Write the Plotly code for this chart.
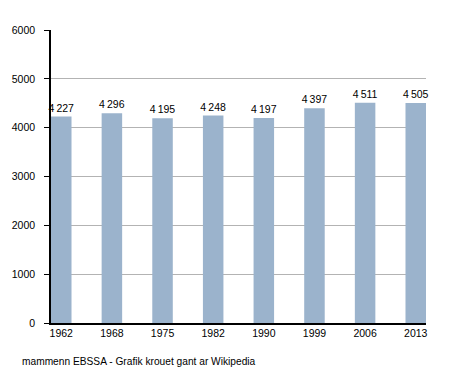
import plotly.graph_objects as go

years = ["1962", "1968", "1975", "1982", "1990", "1999", "2006", "2013"]
population = [4227, 4296, 4195, 4248, 4197, 4397, 4511, 4505]
y_ticks = [0, 1000, 2000, 3000, 4000, 5000, 6000]
caption = "mammenn EBSSA - Grafik krouet gant ar Wikipedia"

labels = [f"{v // 1000}\u2009{v % 1000:03d}" for v in population]

FONT = "Liberation Sans, Arial, sans-serif"

fig = go.Figure(go.Bar(
    x=years, y=population, text=labels, textposition="outside",
    constraintext="none",
    textfont=dict(family=FONT, size=10.5, color="#000000"),
    marker=dict(color="#9BB3CC", line=dict(width=0)),
    width=0.405, cliponaxis=False,
))

fig.update_layout(
    width=447, height=365,
    margin=dict(l=43, r=29, t=22, b=50, autoexpand=False),
    paper_bgcolor="white", plot_bgcolor="white",
    font=dict(family=FONT, size=10.5, color="#000000"),
    showlegend=False,
    xaxis=dict(type="category", range=[-0.2025, 7.2025], showgrid=False,
               showline=True, linecolor="#000000", linewidth=1.5,
               ticks="", tickfont=dict(size=10.5), fixedrange=True,
               automargin=False),
    yaxis=dict(range=[0, 6000], tickvals=y_ticks, showgrid=True,
               gridcolor="#B3B3B3", gridwidth=1, showline=True,
               linecolor="#000000", linewidth=1.5, ticks="outside",
               ticklen=5, tickcolor="#000000", zeroline=False,
               ticklabelstandoff=7, automargin=False,
               tickfont=dict(size=10.5), fixedrange=True),
    annotations=[dict(text=caption, xref="paper", yref="paper",
                      x=-31/375, y=-38/293, xanchor="left", yanchor="middle",
                      showarrow=False, font=dict(family=FONT, size=10.2))],
)

fig.write_html("out.html")
